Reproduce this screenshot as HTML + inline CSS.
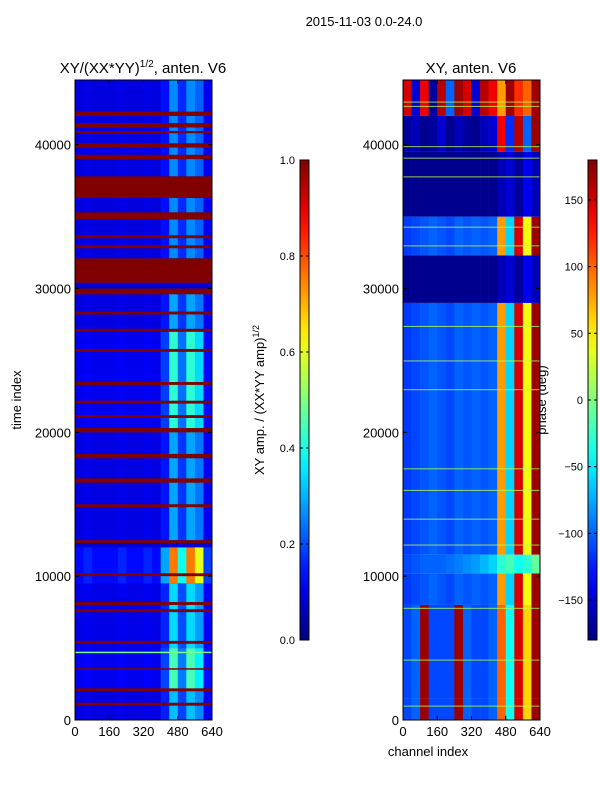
<!DOCTYPE html>
<html><head><meta charset="utf-8"><style>
body{margin:0;background:#fff;font-family:"Liberation Sans",sans-serif;}
svg text{font-family:"Liberation Sans",sans-serif;fill:#000;}
</style></head><body>
<svg id="fig" width="600" height="800" xmlns="http://www.w3.org/2000/svg">
<rect width="600" height="800" fill="#fff"/>
<text x="364" y="26" font-size="13" text-anchor="middle">2015-11-03 0.0-24.0</text>
<text x="143" y="73" font-size="15" text-anchor="middle">XY/(XX*YY)<tspan font-size="10" dy="-6">1/2</tspan><tspan dy="6">, anten. V6</tspan></text>
<text x="471" y="73" font-size="15" text-anchor="middle">XY, anten. V6</text>
<text transform="translate(21,400) rotate(-90)" font-size="13" text-anchor="middle">time index</text>
<text x="428" y="756" font-size="13" text-anchor="middle">channel index</text>
<text transform="translate(264,400) rotate(-90)" font-size="13" text-anchor="middle">XY amp. / (XX*YY amp)<tspan font-size="9" dy="-5">1/2</tspan></text>
<text transform="translate(546,400) rotate(-90)" font-size="13" text-anchor="middle">phase (deg)</text>
<g id="left"></g>
<g id="right"></g>
<g id="axes"></g>
</svg>
<script>
// ---- data ----
const chanBins = [0,40,80,120,160,200,240,280,320,360,400,440,480,520,560,600];
const ampBase = [0.1,0.11,0.1,0.1,0.1,0.11,0.1,0.1,0.11,0.1,0.16,0.34,0.2,0.34,0.28,0.12];
const ampRedBands = [[42000,42300],[41200,41500],[40800,40950],[39800,40100],[39000,39300],[36300,37800],[34800,35300],[33500,33700],[32800,33000],[30400,32100],[29600,30000],[28200,28400],[27000,27200],[25600,25800],[23300,23500],[22000,22200],[21000,21200],[20000,20300],[18200,18500],[16500,16800],[14800,15000],[12300,12500],[10000,10200],[8000,8200],[7500,7700],[5300,5500],[3500,3600],[2000,2200],[1000,1200]];
const ampActivity = [[0,2000,0.9],[2000,5000,1.4],[5000,9500,1.0],[9500,12000,2.6],[12500,20000,0.8],[20000,27000,1.3],[27000,30000,0.8],[32100,36300,0.7],[37800,44500,0.7]];
const phaseSegments = [[0,1500,'low'],[1500,8000,'low'],[8000,10200,'norm'],[10200,11500,'cyan'],[11500,29000,'norm'],[29000,32300,'dark'],[32300,35000,'norm'],[35000,39500,'dark'],[39500,42000,'mixed'],[42000,44500,'top']];
const phaseProfiles = {
 low:[-110,-100,170,-110,-110,-110,170,-100,-110,-110,-100,100,-40,150,60,170],
 norm:[-115,-110,-105,-100,-105,-110,-100,-105,-100,-105,-100,80,-60,150,40,170],
 cyan:[-110,-105,-100,-100,-100,-95,-90,-85,-80,-70,-60,-30,-20,-40,-30,-10],
 dark:[-175,-175,-175,-175,-175,-175,-175,-175,-175,-175,-175,-160,-150,-170,-140,-160],
 mixed:[-170,-160,-175,-170,-150,-175,-160,-170,-175,-160,-150,140,-120,160,-100,170],
 top:[150,-150,140,-170,160,-100,170,150,-150,160,140,80,170,120,100,170]
};
const phaseGreenLines = [43000,42700,39900,39100,37800,34300,33000,27400,25000,23000,17500,16000,14000,12200,7800,4200,1000];
const xTicks = [0,160,320,480,640];
const yTicks = [0,10000,20000,30000,40000];
const ampTicks = [0.0,0.2,0.4,0.6,0.8,1.0];
const phaseTicks = [-150,-100,-50,0,50,100,150];

// ---- helpers ----
const NS="http://www.w3.org/2000/svg";
function jet(v){v=Math.max(0,Math.min(1,v));
 const r=Math.min(4*v-1.5,-4*v+4.5),g=Math.min(4*v-0.5,-4*v+3.5),b=Math.min(4*v+0.5,-4*v+2.5);
 const c=x=>Math.round(255*Math.max(0,Math.min(1,x)));return `rgb(${c(r)},${c(g)},${c(b)})`;}
const T0=0,T1=44500,yTop=80,yBot=720;
const ty=t=>yBot-(t-T0)/(T1-T0)*(yBot-yTop);
function cx(x0,ch){return x0+ch/640*137;}
function rect(g,x,y,w,h,fill,name){const r=document.createElementNS(NS,'rect');
 r.setAttribute('x',x);r.setAttribute('y',y);r.setAttribute('width',w);r.setAttribute('height',h);r.setAttribute('fill',fill);
 
 
 g.appendChild(r);return r;}
function txt(g,x,y,s,anchor,name,size){const t=document.createElementNS(NS,'text');
 t.setAttribute('x',x);t.setAttribute('y',y);t.setAttribute('text-anchor',anchor);t.setAttribute('font-size',size||13);t.textContent=s;
 
 
 g.appendChild(t);}

// ---- left heatmap ----
const L=document.getElementById('left'),LX=75;
rect(L,LX,yTop,137,yBot-yTop,jet(0.08),'amp-background');
ampActivity.forEach(a=>{chanBins.forEach((c,i)=>{
 const v=0.08+(ampBase[i]-0.08)*a[2];
 rect(L,cx(LX,c),ty(a[1]),137/16+0.3,ty(a[0])-ty(a[1]),jet(v),'amp-cell');});});
ampRedBands.forEach(b=>rect(L,LX,ty(b[1]),137,Math.max(1.5,ty(b[0])-ty(b[1])),jet(1.0),'amp-red-band'));
rect(L,LX,ty(4750),137,1.5,jet(0.5),'amp-green-line');

// ---- right heatmap ----
const R=document.getElementById('right'),RX=403;
const pv=p=>(p+180)/360;
phaseSegments.forEach(s=>{const prof=phaseProfiles[s[2]];chanBins.forEach((c,i)=>{
 rect(R,cx(RX,c),ty(s[1]),137/16+0.3,ty(s[0])-ty(s[1]),jet(pv(prof[i])),'phase-cell');});});
phaseGreenLines.forEach(t=>{const r=rect(R,RX,ty(t),137,1,jet(0.55),'phase-green-line');r.setAttribute('opacity','0.8');});

// ---- axes ----
const A=document.getElementById('axes');
[[LX,'left'],[RX,'right']].forEach(([x0,nm])=>{
 const f=rect(A,x0,yTop,137,yBot-yTop,'none',nm+'-plot-frame');f.setAttribute('stroke','#000');
 xTicks.forEach(v=>{const x=cx(x0,v);rect(A,x-0.5,yBot-4,1,4,'#000',nm+'-x-tick');rect(A,x-0.5,yTop,1,4,'#000',nm+'-x-tick-top');
  txt(A,x,yBot+16,String(v),'middle',nm+'-x-tick-label');});
 yTicks.forEach(v=>{const y=ty(v);rect(A,x0,y-0.5,4,1,'#000',nm+'-y-tick');rect(A,x0+133,y-0.5,4,1,'#000',nm+'-y-tick-right');
  txt(A,x0-4,y+5,String(v),'end',nm+'-y-tick-label');});
});
// colorbars
function cbar(x,lo,hi,ticks,fmt,nm){const defs=document.createElementNS(NS,'defs');const lg=document.createElementNS(NS,'linearGradient');
 lg.setAttribute('id',nm+'g');lg.setAttribute('x1','0');lg.setAttribute('y1','1');lg.setAttribute('x2','0');lg.setAttribute('y2','0');
 for(let i=0;i<=20;i++){const s=document.createElementNS(NS,'stop');s.setAttribute('offset',i/20);s.setAttribute('stop-color',jet(i/20));lg.appendChild(s);}
 defs.appendChild(lg);A.appendChild(defs);
 const b=rect(A,x,160,9,480,`url(#${nm}g)`,nm);b.setAttribute('stroke','#000');
 ticks.forEach(v=>{const y=640-(v-lo)/(hi-lo)*480;rect(A,x,y-0.5,3,1,'#000',nm+'-tick');rect(A,x+6,y-0.5,3,1,'#000',nm+'-tick');
  txt(A,x-5,y+4,fmt(v),'end',nm+'-tick-label',11);});}
cbar(300,0,1,ampTicks,v=>v.toFixed(1),'amp-colorbar');
cbar(588,-180,180,phaseTicks,v=>v<0?'\u2212'+(-v):String(v),'phase-colorbar');
</script>
</body></html>
